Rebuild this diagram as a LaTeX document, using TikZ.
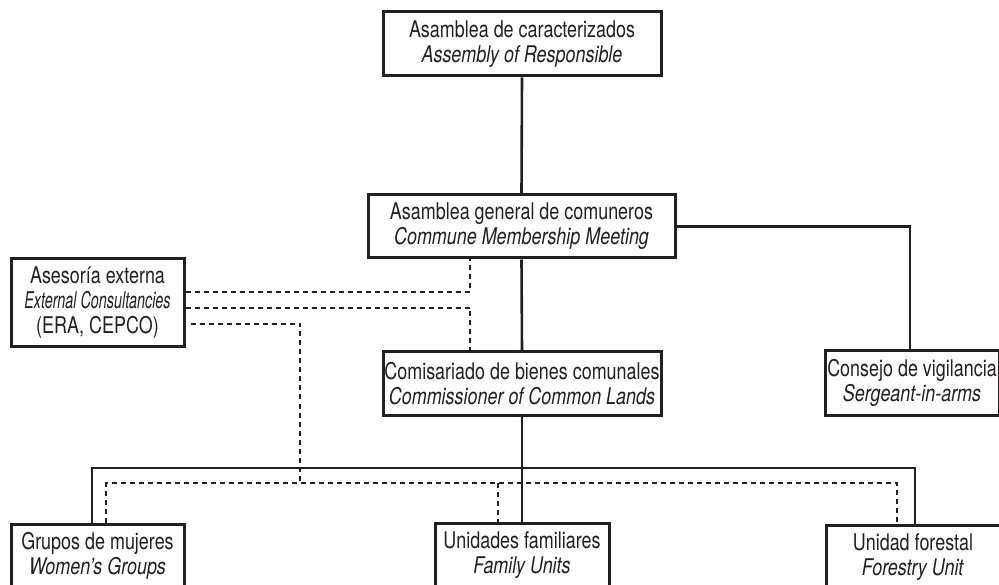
\documentclass[tikz,border=0pt]{standalone}
\usepackage{graphicx}
\usepackage{fontspec}
\setmainfont{TeX Gyre Heros}[FakeStretch=0.78]
\definecolor{ink}{HTML}{231F20}
\begin{document}
\begin{tikzpicture}[x=1pt,y=-1pt,
  orgbox/.style={draw=ink, line width=3pt, fill=white, inner sep=0pt, align=center,
    font=\fontsize{23}{25}\selectfont, text=ink},
  solidline/.style={draw=ink, line width=2.6pt},
  dashline/.style={draw=ink, line width=2.6pt, dash pattern=on 5pt off 4pt}]
\useasboundingbox (0,0) rectangle (999,585);
\clip (0,0) rectangle (999,585);
% bus coordinates
\coordinate (busL) at (92,468);
\coordinate (busR) at (915,468);
\coordinate (dotL) at (106,483);
\coordinate (dotR) at (897,483);
\coordinate (dotJ) at (300,483);
\coordinate (dotU) at (498,483);
% nodes
\node[orgbox, minimum width=278pt, minimum height=64pt] (top) at (522,44)
  {Asamblea de caracterizados\\ \textit{Assembly of Responsible}};
\node[orgbox, minimum width=307pt, minimum height=63pt] (gen) at (521.5,226.5)
  {Asamblea general de comuneros\\ \textit{Commune Membership Meeting}};
\node[orgbox, minimum width=173pt, minimum height=88pt] (ase) at (97.5,303)
  {Asesoría externa\\ \scalebox{0.8}[1]{\textit{External Consultancies}}\\ (ERA, CEPCO)};
\node[orgbox, minimum width=278pt, minimum height=63pt] (com) at (522,383.5)
  {Comisariado de bienes comunales\\ \textit{Commissioner of Common Lands}};
\node[orgbox, minimum width=174pt, minimum height=64pt] (con) at (912,383)
  {Consejo de vigilancia\\ \textit{Sergeant-in-arms}};
\node[orgbox, minimum width=173pt, minimum height=64pt] (gru) at (97.5,556)
  {Grupos de mujeres\\ \textit{Women’s Groups}};
\node[orgbox, minimum width=174pt, minimum height=64pt] (uni) at (522,555.5)
  {Unidades familiares\\ \textit{Family Units}};
\node[orgbox, minimum width=174pt, minimum height=64pt] (for) at (913,557)
  {Unidad forestal\\ \textit{Forestry Unit}};
% solid connectors
\draw[solidline] (top.south) -- (gen.north);
\draw[solidline] (gen.east) -| ([xshift=-2pt]con.north);
\draw[solidline] (gen.south) -- (com.north);
\draw[solidline] (com.south) -- (uni.north);
\draw[solidline] (gru.north -| busL) |- (busR) -- (busR |- for.north);
% dashed connectors
\draw[dashline] ([yshift=11pt]ase.east) -| ([xshift=-51.5pt]gen.south);
\draw[dashline] ([yshift=-5pt]ase.east) -| ([xshift=-52pt]com.north);
\draw[dashline] ([xshift=5pt,yshift=-21pt]ase.east) -| (dotJ);
\draw[dashline] (gru.north -| dotL) |- (dotR) -- (dotR |- for.north);
\draw[dashline] (dotU) -- (uni.north -| dotU);
\end{tikzpicture}
\end{document}
